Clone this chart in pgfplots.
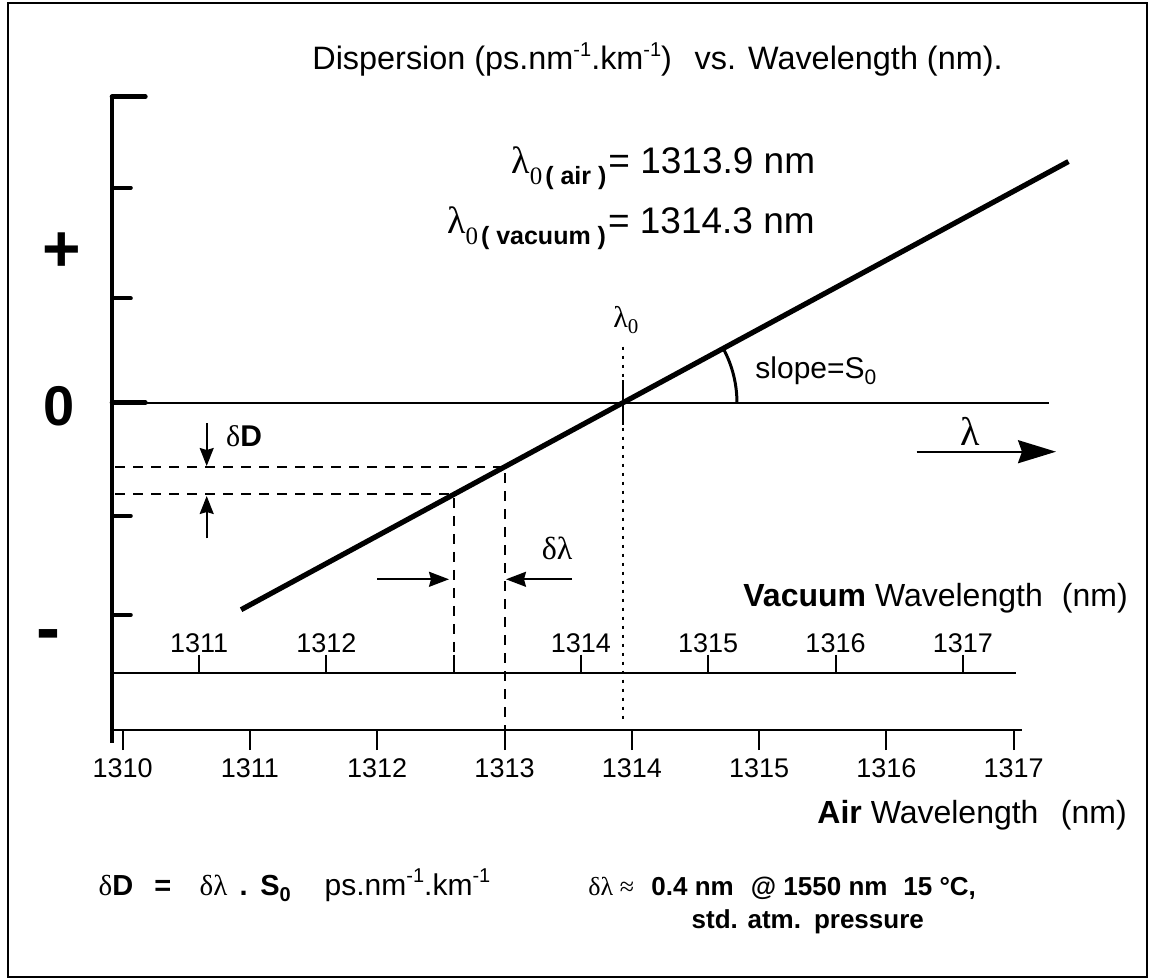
\documentclass[border=0pt]{standalone}
\usepackage{pgfplots}
\pgfplotsset{compat=1.18}
\usetikzlibrary{arrows.meta}
\usepackage{fontspec}
\setmainfont{Liberation Sans}
\newfontfamily\grk{Liberation Serif}
\newcommand\fs[1]{\fontsize{#1}{#1}\selectfont}
\newcommand\supm[1]{\raisebox{0.42em}{\fs{#1}-1}}
% lambda_0 with a bold sans qualifier as subscript
\newcommand\lamsub[1]{{\grk\fs{19}λ}\raisebox{-5.5pt}{{\grk\fs{12.5}0}\hspace{1.5pt}\bfseries\fs{12.5}( #1 )}}

\begin{document}
\begin{tikzpicture}
% ---- air wavelength axis, holds the dispersion line
\begin{axis}[
  at={(56pt,-365pt)}, anchor=south west,
  scale only axis, width=455.2pt, height=316.65pt,
  xmin=1309.916, xmax=1317.068,
  ymin=-3.1623, ymax=2.9565,
  clip=false,
  axis x line*=bottom, axis y line=none,
  x axis line style={line width=1pt},
  xtick={1310,...,1317},
  xticklabels={1310,1311,1312,1313,1314,1315,1316,1317},
  ytick=\empty,
  tick align=outside,
  major tick length=10pt,
  every tick/.style={black, line width=1pt},
  xticklabel style={font=\fs{13.5}, inner sep=4pt},
]
% dispersion vs wavelength (schematic, D in arbitrary units)
\addplot[line width=2.6pt] coordinates {(1310.93,-2.00) (1313.93,0) (1317.43,2.33)};

% D axis
\draw[line width=2.3pt] (axis cs:1309.916,2.9565) -- (axis cs:1309.916,-3.2908);
\draw[line width=1pt] (axis cs:1309.916,0) -- (axis cs:1317.274,0);
\draw[line width=2pt, line cap=round] (axis cs:1309.916,2.0773) -- ++(9.4pt,0pt);
\draw[line width=2pt, line cap=round] (axis cs:1309.916,1.0068) -- ++(9.4pt,0pt);
\draw[line width=2pt, line cap=round] (axis cs:1309.916,-1.0947) -- ++(9.4pt,0pt);
\draw[line width=2pt, line cap=round] (axis cs:1309.916,-2.0512) -- ++(9.4pt,0pt);
\draw[line width=2.3pt, line cap=round] (axis cs:1309.916,2.9565) -- ++(16.7pt,0pt);
\draw[line width=2.3pt, line cap=round] (axis cs:1309.916,0) -- ++(16.7pt,0pt);

% delta construction
\draw[line width=1pt, dash pattern=on 5pt off 4pt]
  (axis cs:1309.94,-0.6197) -- (axis cs:1313,-0.6197) -- (axis cs:1313,-3.1623);
\draw[line width=1pt, dash pattern=on 5pt off 4pt]
  (axis cs:1309.94,-0.8862) -- (axis cs:1312.6,-0.8862) -- (axis cs:1312.6,-2.6087);

% lambda_0 marker
\draw[line width=1.4pt, dash pattern=on 1.5pt off 3pt]
  (axis cs:1313.93,0.5411) -- (axis cs:1313.93,-3.082);
\draw[line width=1pt] (axis cs:1313.93,0.219) -- (axis cs:1313.93,-0.215);
\draw[line width=1.5pt] (axis cs:1313.93,0) ++(57pt,0pt)
  arc[start angle=0, end angle=28.44, radius=57pt];
\end{axis}

% ---- vacuum wavelength axis (air + 0.4 nm)
\begin{axis}[
  at={(56pt,-336.35pt)}, anchor=north west,
  scale only axis, width=451.98pt, height=10pt,
  xmin=1310.316, xmax=1317.417,
  ymin=0, ymax=1,
  clip=false,
  axis x line*=top, axis y line=none,
  x axis line style={line width=1pt},
  xtick={1311,...,1317},
  xticklabels={1311,1312,{},1314,1315,1316,1317},
  ytick=\empty,
  tick align=outside,
  major tick length=9pt,
  every tick/.style={black, line width=1pt},
  xticklabel style={font=\fs{13.5}, inner sep=1pt},
]
\addplot[draw=none] coordinates {(1311,0.5)};
\end{axis}

% ---- annotations, in pixel units of the reference
\begin{scope}[x=0.5pt, y=-0.5pt, every node/.style={inner sep=0pt}]
\draw[line width=1.2pt] (7.7,3.3) rectangle (1147,976.7);

\node[anchor=base west] at (312,70) {\fs{16.2}Dispersion (ps.nm\supm{10}.km\supm{10})\hspace{0.7em}vs. Wavelength (nm).};

\node[anchor=base west] at (511,173.3) {\lamsub{air}\hspace{1pt}\fs{18.5}= 1313.9 nm};
\node[anchor=base west] at (446.7,233.3) {\lamsub{vacuum}\hspace{1pt}\fs{18.5}= 1314.3 nm};

\node[font=\bfseries\fs{33}] at (61.7,251.7) {+};
\node[font=\bfseries\fs{28}] at (59.3,406.7) {0};
\node[font=\bfseries\fs{36}] at (48.3,640.7) {-};

\node[anchor=base west] at (613,328) {\grk\fs{15}λ\raisebox{-3pt}{\fs{10.5}0}};
\node[anchor=base west] at (755,378.3) {\fs{15}slope=S\raisebox{-3pt}{\fs{10.5}0}};

\draw[line width=1.2pt, -{Stealth[length=19pt,width=11.5pt,inset=2pt]}] (916.7,451.7) -- (1056,451.7);
\node[anchor=base] at (970,445) {\grk\fs{20}λ};

\node[anchor=base west] at (225.8,446.7) {\fs{15}{\grk δ}\textbf{D}};
\draw[line width=0.9pt, -{Stealth[length=9pt,width=7pt,inset=1pt]}] (206.7,423.3) -- (206.7,466);
\draw[line width=0.9pt, -{Stealth[length=9pt,width=7pt,inset=1pt]}] (206.7,538.3) -- (206.7,496);

\node[anchor=base west] at (541.5,559.3) {\grk\fs{16}δλ};
\draw[line width=1pt, -{Stealth[length=10pt,width=7.5pt,inset=1pt]}] (377,579.3) -- (449,579.3);
\draw[line width=1pt, -{Stealth[length=10pt,width=7.5pt,inset=1pt]}] (572,579.3) -- (506,579.3);

\node[anchor=base west] at (743,606.7) {\fs{16}\textbf{Vacuum} Wavelength\hspace{0.6em}(nm)};
\node[anchor=base west] at (817,823.3) {\fs{16}\textbf{Air} Wavelength\hspace{0.7em}(nm)};

\node[anchor=base west] at (98.3,895) {\fs{14.5}{\grk δ}\textbf{D}};
\node[anchor=base west] at (154,895) {\fs{14.5}\textbf{=}};
\node[anchor=base west] at (199.3,895) {\grk\fs{14.5}δλ};
\node[anchor=base west] at (239.3,895) {\fs{14.5}\textbf{.}};
\node[anchor=base west] at (260,895) {\fs{14.5}\textbf{S}\raisebox{-3pt}{\fs{10}\textbf{0}}};
\node[anchor=base west] at (324.3,895) {\fs{15}ps.nm\supm{10}.km\supm{10}};

\node[anchor=base west] at (588,895) {\grk\fs{13}δλ ≈};
\node[anchor=base west] at (651,895) {\bfseries\fs{13}0.4 nm};
\node[anchor=base west] at (750.5,895) {\bfseries\fs{13}@ 1550 nm};
\node[anchor=base west] at (903,895) {\bfseries\fs{13}15 °C,};
\node[anchor=base west] at (691.3,928.3) {\bfseries\fs{13}std. atm.\hspace{0.5em}pressure};

\pgfresetboundingbox
\path[use as bounding box] (0,0) rectangle (1149,978);
\end{scope}
\end{tikzpicture}
\end{document}
